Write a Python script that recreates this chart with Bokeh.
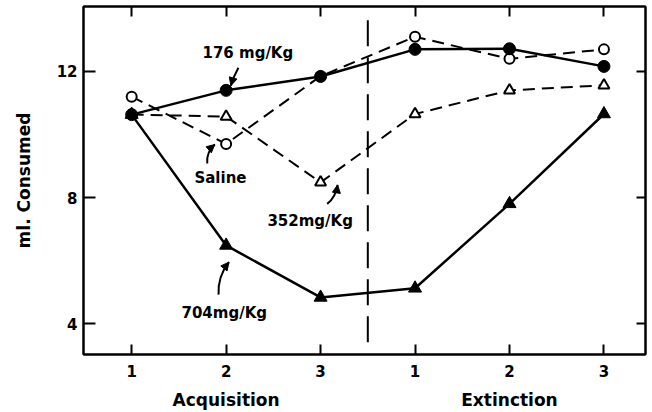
from bokeh.plotting import figure
from bokeh.models import Range1d, LinearAxis, FixedTicker, Arrow, NormalHead
from bokeh.core.properties import value
from bokeh.embed import file_html
from bokeh.resources import INLINE

# ---- data ----
sessions = [1, 2, 3, 4, 5, 6]
session_labels = ["1", "2", "3", "1", "2", "3"]
phase_names = ["Acquisition", "Extinction"]
phase_centers = [2, 5]
saline = [11.2, 9.7, 11.85, 13.1, 12.4, 12.7]
dose_176 = [10.63, 11.4, 11.84, 12.7, 12.72, 12.16]
dose_352 = [10.63, 10.57, 8.48, 10.65, 11.4, 11.56]
dose_704 = [10.63, 6.48, 4.83, 5.12, 7.8, 10.65]
y_ticks = [4, 8, 12]
divider_x = 3.5
divider_y = [13.62, 3.2]

# annotations: text, text x, text y, arrow tail (x, y), arrow head (x, y), control point
notes = [
    ("176 mg/Kg", 2.23, 12.57, (2.13, 12.12), (2.05, 11.55), (2.08, 11.85)),
    ("Saline", 1.94, 8.63, (1.80, 9.08), (1.88, 9.68), (1.79, 9.45)),
    ("352mg/Kg", 2.89, 7.27, (3.07, 7.80), (3.18, 8.40), (3.16, 8.0)),
    ("704mg/Kg", 1.98, 4.35, (1.92, 4.92), (2.03, 5.95), (1.91, 5.5)),
]

FONT = "DejaVu Sans"

p = figure(width=652, height=412, output_backend="svg", toolbar_location=None,
           x_range=Range1d(0.49, 6.44), y_range=Range1d(3.02, 14.06),
           min_border_left=83, min_border_right=7, min_border_top=6, min_border_bottom=58,
           x_axis_location=None, y_axis_location=None)
p.xgrid.visible = False
p.ygrid.visible = False
p.outline_line_color = "black"
p.outline_line_width = 2
p.background_fill_color = "white"
p.border_fill_color = "white"

def style_axis(ax, show_labels=True, tick_in=10):
    ax.axis_line_color = "black"
    ax.axis_line_width = 2
    ax.major_tick_in = tick_in
    ax.major_tick_out = 0
    ax.major_tick_line_width = 2
    ax.minor_tick_line_color = None
    ax.major_label_text_font = FONT
    ax.major_label_text_font_style = "bold"
    ax.major_label_text_color = "black"
    ax.major_label_text_font_size = "15px"
    if not show_labels:
        ax.major_label_overrides = {t: "" for t in ax.ticker.ticks}
        ax.major_label_standoff = 0

# bottom axis: session numbers
xb = LinearAxis(ticker=FixedTicker(ticks=sessions),
                major_label_overrides={s: l for s, l in zip(sessions, session_labels)})
style_axis(xb, tick_in=10)
xb.major_label_standoff = 10
p.add_layout(xb, "below")

# bottom phase labels
xp = LinearAxis(ticker=FixedTicker(ticks=phase_centers),
                major_label_overrides={c: n for c, n in zip(phase_centers, phase_names)})
xp.axis_line_color = None
xp.major_tick_line_color = None
xp.minor_tick_line_color = None
xp.major_tick_in = 0
xp.major_tick_out = 0
xp.major_label_standoff = 10
xp.major_label_text_font = FONT
xp.major_label_text_font_style = "bold"
xp.major_label_text_font_size = "17px"
xp.major_label_text_color = "black"
p.add_layout(xp, "below")

# top axis (ticks only)
xt = LinearAxis(ticker=FixedTicker(ticks=sessions))
style_axis(xt, show_labels=False, tick_in=10)
p.add_layout(xt, "above")

# left axis
yl = LinearAxis(ticker=FixedTicker(ticks=y_ticks), axis_label="ml. Consumed")
style_axis(yl, tick_in=12)
yl.major_label_standoff = 6
yl.axis_label_text_font = FONT
yl.axis_label_text_font_style = "bold"
yl.axis_label_text_font_size = "17px"
yl.axis_label_text_color = "black"
yl.axis_label_standoff = 20
p.add_layout(yl, "left")

# right axis (ticks only)
yr = LinearAxis(ticker=FixedTicker(ticks=y_ticks))
style_axis(yr, show_labels=False, tick_in=9)
p.add_layout(yr, "right")

# divider
p.segment(x0=[divider_x], y0=[divider_y[0]], x1=[divider_x], y1=[divider_y[1]],
          line_color="black", line_width=2, line_dash="26 11")

# series lines
p.line(sessions, saline, line_color="black", line_width=2, line_dash="12 7")
p.line(sessions, dose_352, line_color="black", line_width=2, line_dash="12 7")
p.line(sessions, dose_176, line_color="black", line_width=2.5)
p.line(sessions, dose_704, line_color="black", line_width=2.5)

# markers
p.scatter(sessions, dose_352, marker="triangle", size=11, fill_color="white",
          line_color="black", line_width=2)
p.scatter(sessions, saline, marker="circle", size=10, fill_color="white",
          line_color="black", line_width=2)
p.scatter(sessions, dose_176, marker="circle", size=12, fill_color="black",
          line_color="black", line_width=1)
p.scatter(sessions, dose_704, marker="triangle", size=13, fill_color="black",
          line_color="black", line_width=1)

# annotations
for txt, tx, ty, tail, head, ctrl in notes:
    p.text(x=[tx], y=[ty], text=[txt], text_font=value(FONT), text_font_style="bold",
           text_font_size="15px", text_align="center", text_baseline="middle",
           text_color="black")
    p.quadratic(x0=[tail[0]], y0=[tail[1]], x1=[head[0]], y1=[head[1]],
                cx=[ctrl[0]], cy=[ctrl[1]], line_color="black", line_width=2)
    dx = head[0] - ctrl[0]
    dy = head[1] - ctrl[1]
    p.add_layout(Arrow(end=NormalHead(size=8, fill_color="black", line_color="black"),
                       x_start=head[0] - dx * 0.15, y_start=head[1] - dy * 0.15,
                       x_end=head[0], y_end=head[1], line_color="black", line_width=2))

open("out.html", "w").write(file_html(p, INLINE))
